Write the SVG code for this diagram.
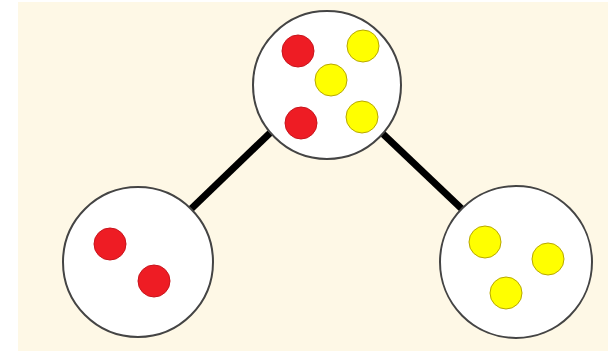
<svg xmlns="http://www.w3.org/2000/svg" width="608" height="351" viewBox="0 0 608 351">
<style>
.node{fill:#ffffff;stroke:#444444;stroke-width:2}
.red{fill:#ee1c24;stroke:#c8141c;stroke-width:1}
.yel{fill:#ffff00;stroke:#b8a800;stroke-width:1}
.edge{stroke:#000000;stroke-width:7;fill:none}
</style>
<rect x="18" y="2" width="590" height="349" fill="#fef8e6"/>
<g id="connectors">
<line class="edge" x1="191" y1="209" x2="270" y2="133"/>
<line class="edge" x1="382" y1="133" x2="463" y2="210"/>
</g>
<g id="top">
<circle class="node" cx="327" cy="85" r="74"/>
<circle class="red" cx="298" cy="51" r="16"/>
<circle class="yel" cx="363" cy="46" r="16"/>
<circle class="yel" cx="331" cy="80" r="16"/>
<circle class="red" cx="301" cy="123" r="16"/>
<circle class="yel" cx="362" cy="117" r="16"/>
</g>
<g id="left">
<circle class="node" cx="138" cy="262" r="75"/>
<circle class="red" cx="110" cy="244" r="16"/>
<circle class="red" cx="154" cy="281" r="16"/>
</g>
<g id="right">
<circle class="node" cx="516" cy="262" r="76"/>
<circle class="yel" cx="485" cy="242" r="16"/>
<circle class="yel" cx="548" cy="259" r="16"/>
<circle class="yel" cx="506" cy="293" r="16"/>
</g>
</svg>
